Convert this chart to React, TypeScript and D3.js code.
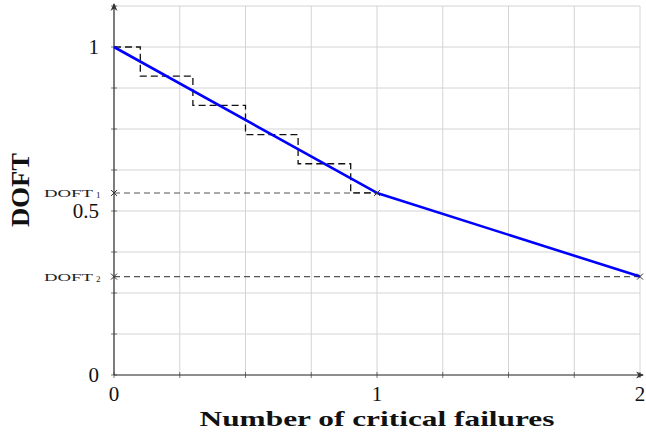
import React from "react";
import * as d3 from "d3";

const stepX = [0, 0.1, 0.3, 0.5, 0.7, 0.9, 1.0];
const stepY = [1, 0.911, 0.822, 0.733, 0.644, 0.555, 0.555];
const curveX = [0, 1, 2];
const curveY = [1, 0.555, 0.3];
const doftLevels = [
  { name: "DOFT", sub: "1", value: 0.555, xEnd: 1 },
  { name: "DOFT", sub: "2", value: 0.3, xEnd: 2 },
];
const xTicks = [0, 1, 2];
const yTicks = [0, 0.5, 1];
const xGrid = d3.range(0, 2.0001, 0.25);
const yGrid = d3.range(0, 1.1251, 0.125);

const W = 646;
const H = 441;
const serif = "'Liberation Serif', 'DejaVu Serif', serif";

export default function App() {
  const x = d3.scaleLinear().domain([0, 2]).range([114, 640]);
  const y = d3.scaleLinear().domain([0, 1]).range([375, 47]);

  const stepPts: [number, number][] = stepX.map((v, i) => [v, stepY[i]]);
  const stepLine = d3
    .line<[number, number]>()
    .x((d) => x(d[0]))
    .y((d) => y(d[1]))
    .curve(d3.curveStepAfter);
  const curvePts: [number, number][] = curveX.map((v, i) => [v, curveY[i]]);
  const blueLine = d3
    .line<[number, number]>()
    .x((d) => x(d[0]))
    .y((d) => y(d[1]));

  const cross = (cx: number, cy: number, key: string) => (
    <g key={key} stroke="#333" strokeWidth={1}>
      <line x1={cx - 3} y1={cy - 3} x2={cx + 3} y2={cy + 3} />
      <line x1={cx - 3} y1={cy + 3} x2={cx + 3} y2={cy - 3} />
    </g>
  );

  const yTop = y(1.125);

  return (
    <svg
      width={W}
      height={H}
      style={{ position: "absolute", left: 0, top: 0, background: "#fff" }}
      fontFamily={serif}
    >
      <rect width={W} height={H} fill="#fff" />
      {/* grid */}
      <g stroke="#d4d4d4" strokeWidth={1}>
        {xGrid.map((g) => (
          <line key={"vx" + g} x1={x(g)} x2={x(g)} y1={y(0)} y2={yTop} />
        ))}
        {yGrid.map((g) => (
          <line key={"hy" + g} x1={x(0)} x2={x(2)} y1={y(g)} y2={y(g)} />
        ))}
      </g>
      {/* small ticks on axes */}
      <g stroke="#555" strokeWidth={0.8}>
        {xGrid.map((g) => (
          <line key={"tx" + g} x1={x(g)} x2={x(g)} y1={y(0) - 3} y2={y(0) + 3} />
        ))}
        {yGrid.map((g) => (
          <line key={"ty" + g} x1={x(0) - 3} x2={x(0) + 3} y1={y(g)} y2={y(g)} />
        ))}
      </g>
      {/* DOFT dashed reference lines */}
      {doftLevels.map((d) => (
        <line
          key={"dl" + d.sub}
          x1={x(0)}
          x2={x(d.xEnd)}
          y1={y(d.value)}
          y2={y(d.value)}
          stroke="#555"
          strokeWidth={1.1}
          strokeDasharray="6,4"
        />
      ))}
      {/* staircase */}
      <path
        d={stepLine(stepPts) || ""}
        fill="none"
        stroke="#111"
        strokeWidth={1.3}
        strokeDasharray="7,4"
      />
      {/* axes */}
      <g stroke="#333" strokeWidth={1.2}>
        <line x1={x(0)} x2={x(0)} y1={y(0)} y2={4} />
        <line x1={x(0)} x2={643} y1={y(0)} y2={y(0)} />
      </g>
      <path d={`M${x(0)},3 l-3.5,8 l3.5,-2.5 l3.5,2.5 z`} fill="#333" />
      <path d={`M644,${y(0)} l-8,-3.5 l2.5,3.5 l-2.5,3.5 z`} fill="#333" />
      {/* blue line */}
      <path
        d={blueLine(curvePts) || ""}
        fill="none"
        stroke="#0000ff"
        strokeWidth={2.6}
        strokeLinejoin="round"
      />
      {/* crosses */}
      {doftLevels.map((d) => cross(x(0), y(d.value), "ca" + d.sub))}
      {doftLevels.map((d) => cross(x(d.xEnd), y(d.value), "cb" + d.sub))}
      {/* DOFT labels */}
      {doftLevels.map((d) => (
        <g key={"lab" + d.sub} fill="#222">
          <text
            x={44}
            y={y(d.value) + 4}
            fontSize={10}
            textLength={49}
            lengthAdjust="spacingAndGlyphs"
          >
            {d.name}
          </text>
          <text x={96} y={y(d.value) + 5.5} fontSize={9}>
            {d.sub}
          </text>
        </g>
      ))}
      {/* y tick labels */}
      {yTicks.map((t) => (
        <text
          key={"yt" + t}
          x={99}
          y={y(t) + 7}
          fontSize={21}
          textAnchor="end"
          fill="#111"
        >
          {t === 0 ? "0" : t === 1 ? "1" : "0.5"}
        </text>
      ))}
      {/* x tick labels */}
      {xTicks.map((t) => (
        <text
          key={"xt" + t}
          x={x(t)}
          y={401}
          fontSize={21}
          textAnchor="middle"
          fill="#111"
        >
          {String(t)}
        </text>
      ))}
      {/* axis titles */}
      <text
        x={377}
        y={426}
        fontSize={22}
        fontWeight="bold"
        textAnchor="middle"
        textLength={355}
        lengthAdjust="spacingAndGlyphs"
        fill="#111"
      >
        Number of critical failures
      </text>
      <text
        transform={`translate(29,${190}) rotate(-90)`}
        fontSize={26}
        fontWeight="bold"
        textAnchor="middle"
        textLength={74}
        lengthAdjust="spacingAndGlyphs"
        fill="#111"
      >
        DOFT
      </text>
    </svg>
  );
}
